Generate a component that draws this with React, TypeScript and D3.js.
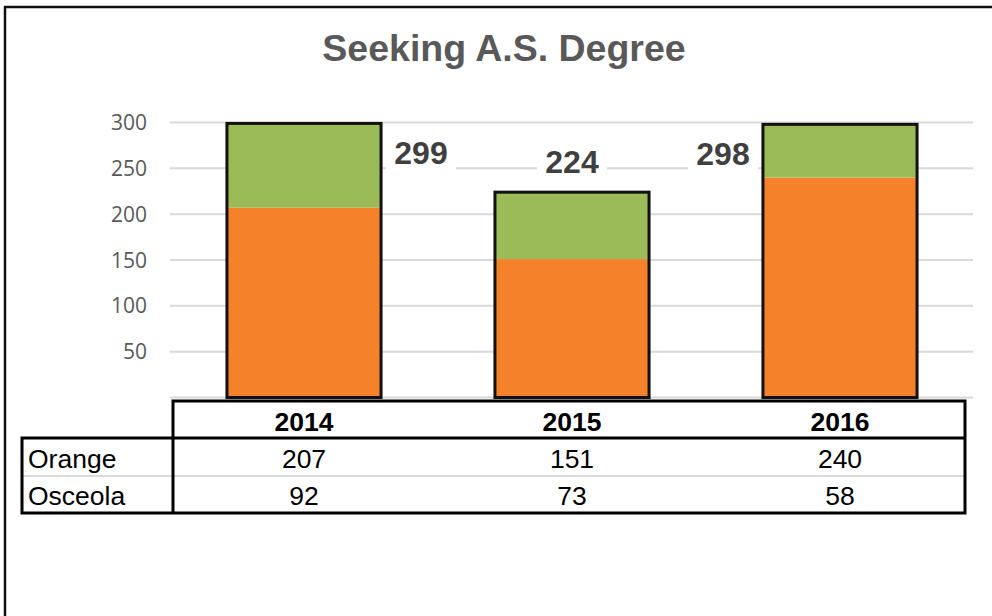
import React from "react";
import * as d3 from "d3";

const title = "Seeking A.S. Degree";
const years = ["2014", "2015", "2016"];
const seriesNames = ["Orange", "Osceola"];
const orangeValues = [207, 151, 240];
const osceolaValues = [92, 73, 58];
const totals = [299, 224, 298];
const yTicks = [50, 100, 150, 200, 250, 300];
const colors = ["#F5822A", "#9BBB59"];

const W = 992;
const H = 616;

export default function App() {
  const x = d3
    .scaleBand<string>()
    .domain(years)
    .range([170, 974])
    .paddingInner(0.425)
    .paddingOuter(0.2125);
  const y = d3.scaleLinear().domain([0, 300]).range([397.5, 122.5]);

  const rows = years.map((yr, i) => ({ year: yr, Orange: orangeValues[i], Osceola: osceolaValues[i] }));
  const stacked = d3.stack<any>().keys(seriesNames)(rows);

  const bw = x.bandwidth();
  const font = "'Liberation Sans', Arial, sans-serif";

  // table layout
  const tLeft = 22;
  const tDiv = 173;
  const tRight = 965;
  const tTop = 401;
  const tHead = 438;
  const tMid = 476;
  const tBot = 513;
  const seriesValues = [orangeValues, osceolaValues];

  // total label placement: right of bar, above bar, left of bar
  const labelPlace = ["right", "top", "left"];

  return (
    <svg
      width={W}
      height={H}
      style={{ position: "absolute", left: 0, top: 0, background: "#fff" }}
      fontFamily={font}
    >
      <rect x={0} y={0} width={W} height={H} fill="#fff" />
      <path d={`M5,${H + 5} V7 H${W + 5}`} fill="none" stroke="#111" strokeWidth={2.5} />

      <text x={504} y={61} textAnchor="middle" fontSize={37.5} fontWeight="bold" fill="#595959">
        {title}
      </text>

      {/* gridlines */}
      {[0, ...yTicks].map((t) => (
        <line key={t} x1={170} x2={973} y1={y(t)} y2={y(t)} stroke="#D9D9D9" strokeWidth={2} />
      ))}
      {yTicks.map((t) => (
        <text
          key={t}
          x={147}
          y={y(t) + 7.5}
          textAnchor="end"
          fontSize={21}
          fill="#595959"
          fontFamily="'Open Sans', sans-serif"
        >
          {t}
        </text>
      ))}

      {/* bars */}
      {stacked.map((s, si) =>
        s.map((d, i) => (
          <rect
            key={`${si}-${i}`}
            x={x(years[i])!}
            y={y(d[1])}
            width={bw}
            height={y(d[0]) - y(d[1])}
            fill={colors[si]}
          />
        ))
      )}
      {years.map((yr, i) => (
        <rect
          key={yr}
          x={x(yr)!}
          y={y(totals[i])}
          width={bw}
          height={y(0) - y(totals[i])}
          fill="none"
          stroke="#111"
          strokeWidth={3}
        />
      ))}

      {/* total labels */}
      {years.map((yr, i) => {
        const cx = x(yr)! + bw / 2;
        const p = labelPlace[i];
        const lx = p === "right" ? cx + 117 : p === "left" ? cx - 117 : cx;
        const ly = p === "top" ? y(totals[i]) - 19 : y(totals[i]) + 41;
        return (
          <g key={yr}>
            <rect x={lx - 35} y={ly - 27} width={70} height={33} fill="#fff" />
            <text x={lx} y={ly} textAnchor="middle" fontSize={32} fontWeight="bold" fill="#404040">
              {totals[i]}
            </text>
          </g>
        );
      })}

      {/* data table */}
      <rect x={tLeft} y={tHead} width={tRight - tLeft} height={tBot - tHead} fill="#fff" />
      <rect x={tDiv} y={tTop} width={tRight - tDiv} height={tHead - tTop} fill="#fff" />
      <line x1={tLeft} x2={tRight} y1={tMid} y2={tMid} stroke="#D9D9D9" strokeWidth={2} />
      <g stroke="#000" strokeWidth={3} fill="none">
        <path d={`M${tDiv},${tBot} V${tTop} H${tRight} V${tBot} H${tLeft} V${tHead} H${tRight}`} />
      </g>
      {years.map((yr) => (
        <text
          key={yr}
          x={x(yr)! + bw / 2}
          y={431}
          textAnchor="middle"
          fontSize={26.5}
          fontWeight="bold"
          fill="#000"
        >
          {yr}
        </text>
      ))}
      {seriesNames.map((name, si) => (
        <g key={name}>
          <text x={28} y={[468, 505][si]} fontSize={26.5} fill="#000">
            {name}
          </text>
          {years.map((yr, i) => (
            <text
              key={yr}
              x={x(yr)! + bw / 2}
              y={[468, 505][si]}
              textAnchor="middle"
              fontSize={26.5}
              fill="#000"
            >
              {seriesValues[si][i]}
            </text>
          ))}
        </g>
      ))}
    </svg>
  );
}
